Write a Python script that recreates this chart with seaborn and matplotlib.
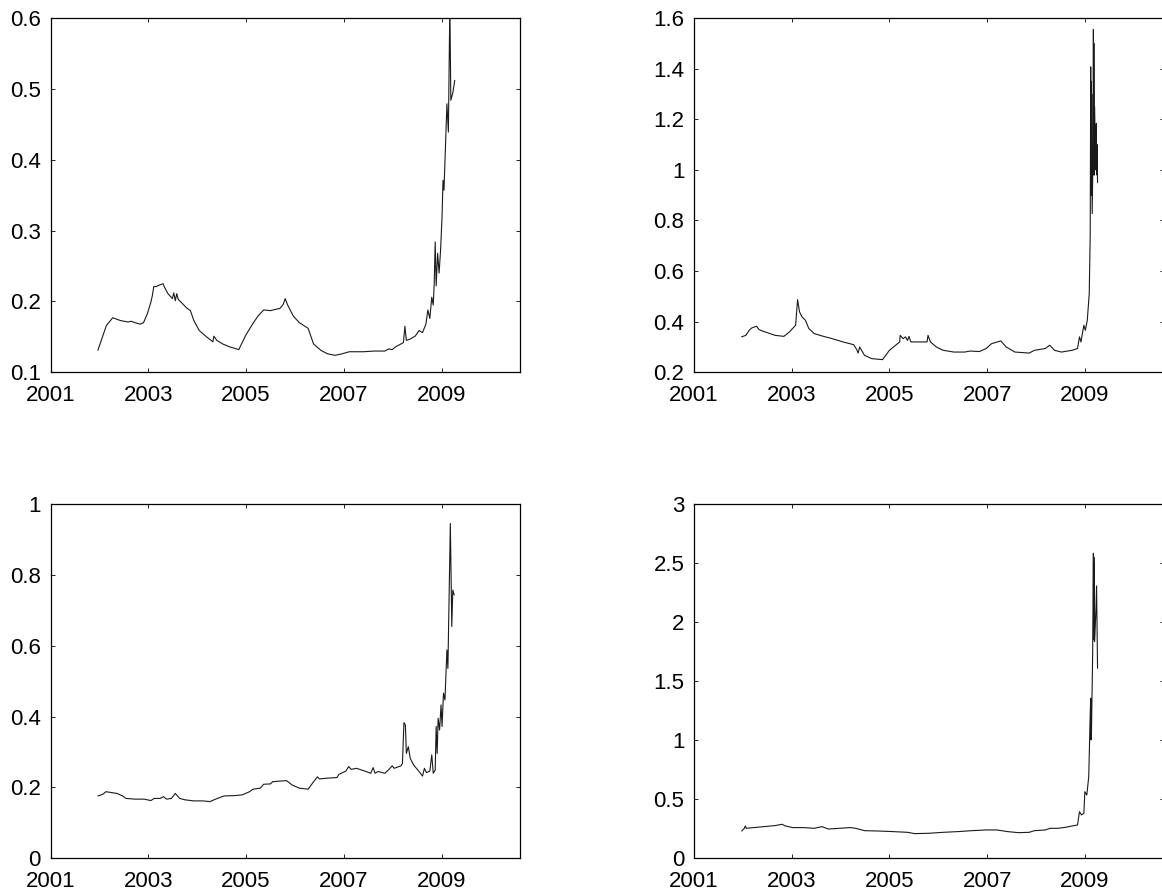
import numpy as np
import pandas as pd
import matplotlib
matplotlib.use("Agg")
import matplotlib.pyplot as plt
from matplotlib.ticker import FuncFormatter, FixedLocator
import seaborn as sns

# ---------------- data (decimal years) ----------------
tl_year = [2001.965, 2002.14, 2002.27, 2002.43, 2002.58, 2002.65, 2002.73, 2002.83, 2002.90,
           2002.98, 2003.05, 2003.08, 2003.11, 2003.16, 2003.22, 2003.30, 2003.33, 2003.40,
           2003.49, 2003.52, 2003.55, 2003.58, 2003.61, 2003.71, 2003.78, 2003.86, 2003.93,
           2004.04, 2004.19, 2004.32, 2004.34, 2004.40, 2004.52, 2004.66, 2004.85, 2004.99,
           2005.14, 2005.25, 2005.36, 2005.50, 2005.61, 2005.69, 2005.76, 2005.80, 2005.85,
           2005.90, 2005.97, 2006.09, 2006.27, 2006.38, 2006.53, 2006.67, 2006.82, 2006.96,
           2007.11, 2007.40, 2007.62, 2007.84, 2007.92, 2007.99, 2008.06, 2008.17, 2008.22,
           2008.25, 2008.28, 2008.36, 2008.46, 2008.54, 2008.61, 2008.68, 2008.72, 2008.76,
           2008.80, 2008.83, 2008.85, 2008.87, 2008.89, 2008.92, 2008.95, 2008.98, 2009.01,
           2009.03, 2009.05, 2009.08, 2009.11, 2009.14, 2009.17, 2009.19, 2009.23, 2009.27]
tl_val = [0.131, 0.166, 0.177, 0.173, 0.171, 0.172, 0.170, 0.168, 0.170,
          0.183, 0.199, 0.208, 0.221, 0.221, 0.223, 0.225, 0.220, 0.211,
          0.204, 0.212, 0.201, 0.211, 0.203, 0.196, 0.191, 0.187, 0.173,
          0.159, 0.150, 0.143, 0.151, 0.145, 0.140, 0.136, 0.132, 0.152,
          0.169, 0.180, 0.188, 0.187, 0.189, 0.190, 0.196, 0.204, 0.195,
          0.188, 0.179, 0.170, 0.162, 0.140, 0.131, 0.126, 0.124, 0.126,
          0.129, 0.129, 0.130, 0.130, 0.133, 0.132, 0.136, 0.140, 0.142,
          0.165, 0.145, 0.147, 0.151, 0.159, 0.156, 0.168, 0.188, 0.176,
          0.206, 0.195, 0.225, 0.284, 0.222, 0.268, 0.240, 0.272, 0.319,
          0.371, 0.357, 0.418, 0.479, 0.439, 0.620, 0.484, 0.494, 0.512]

tr_year = [2001.975, 2002.06, 2002.13, 2002.18, 2002.28, 2002.33, 2002.40, 2002.51, 2002.66,
           2002.84, 2002.95, 2003.08, 2003.12, 2003.16, 2003.21, 2003.28, 2003.35, 2003.46,
           2003.65, 2003.83, 2004.05, 2004.27, 2004.33, 2004.36, 2004.39, 2004.49, 2004.64,
           2004.86, 2005.00, 2005.21, 2005.22, 2005.28, 2005.33, 2005.37, 2005.40, 2005.44,
           2005.59, 2005.77, 2005.79, 2005.84, 2005.96, 2006.10, 2006.32, 2006.54, 2006.65,
           2006.84, 2006.98, 2007.09, 2007.28, 2007.39, 2007.57, 2007.86, 2007.97, 2008.19,
           2008.28, 2008.38, 2008.52, 2008.74, 2008.85, 2008.89, 2008.92, 2008.98, 2009.01,
           2009.05, 2009.09, 2009.11, 2009.120, 2009.125, 2009.130, 2009.135, 2009.140, 2009.150,
           2009.170, 2009.175, 2009.180, 2009.185, 2009.190, 2009.200, 2009.220, 2009.235,
           2009.240, 2009.250, 2009.260]
tr_val = [0.340, 0.346, 0.366, 0.375, 0.382, 0.369, 0.363, 0.356, 0.346,
          0.342, 0.359, 0.386, 0.487, 0.439, 0.419, 0.406, 0.373, 0.353,
          0.342, 0.333, 0.320, 0.309, 0.290, 0.276, 0.300, 0.267, 0.254,
          0.250, 0.287, 0.320, 0.346, 0.333, 0.340, 0.326, 0.342, 0.320,
          0.320, 0.320, 0.346, 0.320, 0.300, 0.287, 0.280, 0.280, 0.284,
          0.282, 0.294, 0.313, 0.324, 0.300, 0.280, 0.276, 0.287, 0.294,
          0.307, 0.287, 0.280, 0.287, 0.294, 0.340, 0.320, 0.386, 0.366,
          0.406, 0.511, 0.748, 1.407, 0.950, 1.350, 0.900, 1.300, 0.827,
          1.100, 1.555, 1.050, 1.500, 0.979, 1.250, 1.000, 1.183, 0.980,
          1.100, 0.949]

bl_year = [2001.965, 2002.03, 2002.07, 2002.13, 2002.22, 2002.36, 2002.47, 2002.54, 2002.73,
           2002.91, 2003.05, 2003.12, 2003.24, 2003.31, 2003.37, 2003.47, 2003.55, 2003.64,
           2003.75, 2003.93, 2004.12, 2004.26, 2004.41, 2004.55, 2004.77, 2004.92, 2005.07,
           2005.14, 2005.29, 2005.36, 2005.50, 2005.54, 2005.69, 2005.83, 2005.94, 2006.09,
           2006.27, 2006.38, 2006.46, 2006.50, 2006.64, 2006.86, 2006.90, 2007.04, 2007.10,
           2007.15, 2007.26, 2007.41, 2007.55, 2007.60, 2007.64, 2007.70, 2007.84, 2007.91,
           2007.99, 2008.03, 2008.17, 2008.20, 2008.23, 2008.26, 2008.28, 2008.32, 2008.36,
           2008.43, 2008.54, 2008.61, 2008.65, 2008.69, 2008.76, 2008.80, 2008.83, 2008.87,
           2008.89, 2008.91, 2008.93, 2008.96, 2008.99, 2009.01, 2009.04, 2009.07, 2009.11,
           2009.13, 2009.18, 2009.21, 2009.23, 2009.26]
bl_val = [0.176, 0.179, 0.181, 0.188, 0.186, 0.183, 0.176, 0.169, 0.167,
          0.167, 0.163, 0.169, 0.169, 0.174, 0.167, 0.169, 0.183, 0.169,
          0.165, 0.162, 0.162, 0.160, 0.169, 0.176, 0.177, 0.179, 0.188,
          0.195, 0.198, 0.209, 0.210, 0.216, 0.218, 0.219, 0.207, 0.198,
          0.195, 0.216, 0.230, 0.224, 0.226, 0.228, 0.237, 0.246, 0.259,
          0.251, 0.254, 0.247, 0.240, 0.256, 0.240, 0.245, 0.240, 0.249,
          0.261, 0.254, 0.261, 0.268, 0.383, 0.376, 0.296, 0.315, 0.282,
          0.263, 0.245, 0.232, 0.254, 0.242, 0.246, 0.292, 0.240, 0.249,
          0.372, 0.296, 0.395, 0.362, 0.433, 0.372, 0.466, 0.447, 0.588,
          0.536, 0.945, 0.654, 0.757, 0.743]

br_year = [2001.975, 2002.03, 2002.05, 2002.07, 2002.22, 2002.43, 2002.66, 2002.80, 2002.87,
           2003.02, 2003.24, 2003.46, 2003.62, 2003.75, 2003.98, 2004.20, 2004.31, 2004.49,
           2004.78, 2005.08, 2005.37, 2005.52, 2005.81, 2006.10, 2006.40, 2006.69, 2006.98,
           2007.20, 2007.42, 2007.64, 2007.86, 2007.97, 2008.19, 2008.29, 2008.45, 2008.60,
           2008.74, 2008.85, 2008.89, 2008.93, 2008.98, 2009.00, 2009.04, 2009.08, 2009.11,
           2009.120, 2009.125, 2009.130, 2009.135, 2009.160, 2009.175, 2009.180, 2009.185,
           2009.190, 2009.195, 2009.200, 2009.230, 2009.240, 2009.260]
br_val = [0.231, 0.254, 0.274, 0.254, 0.260, 0.268, 0.277, 0.288, 0.274,
          0.260, 0.260, 0.254, 0.268, 0.248, 0.254, 0.260, 0.254, 0.234,
          0.231, 0.226, 0.220, 0.209, 0.212, 0.220, 0.226, 0.234, 0.240,
          0.240, 0.226, 0.217, 0.220, 0.234, 0.240, 0.254, 0.254, 0.262,
          0.274, 0.282, 0.395, 0.367, 0.381, 0.564, 0.536, 0.691, 1.228,
          1.355, 1.002, 1.330, 1.050, 1.736, 2.583, 1.850, 2.550, 1.900,
          2.500, 1.834, 2.131, 2.306, 1.609]

x_ticks = [2001, 2003, 2005, 2007, 2009]
y_ticks_tl = [0.1, 0.2, 0.3, 0.4, 0.5, 0.6]
y_ticks_tr = [0.2, 0.4, 0.6, 0.8, 1.0, 1.2, 1.4, 1.6]
y_ticks_bl = [0, 0.2, 0.4, 0.6, 0.8, 1.0]
y_ticks_br = [0, 0.5, 1.0, 1.5, 2.0, 2.5, 3.0]

# ---------------- styling ----------------
sns.set_style("ticks")
plt.rcParams['font.family'] = ['Liberation Sans', 'DejaVu Sans']
plt.rcParams['axes.linewidth'] = 0.9
plt.rcParams['axes.edgecolor'] = '#000000'

W, H = 1162, 894
fig = plt.figure(figsize=(W / 100, H / 100), dpi=100)
fig.patch.set_facecolor('white')

ax_w = 469.5
ax_h = 354.3
positions = {
    'tl': (50.7, 18.0),
    'tr': (694.0, 18.0),
    'bl': (50.7, 504.0),
    'br': (694.0, 504.0),
}
panels = [
    ('tl', tl_year, tl_val, y_ticks_tl),
    ('tr', tr_year, tr_val, y_ticks_tr),
    ('bl', bl_year, bl_val, y_ticks_bl),
    ('br', br_year, br_val, y_ticks_br),
]

fmt = FuncFormatter(lambda v, p: ('%g' % round(v, 6)))

for key, yrs, vals, yt in panels:
    left, top = positions[key]
    ax = fig.add_axes([left / W, 1 - (top + ax_h) / H, ax_w / W, ax_h / H])
    df = pd.DataFrame({'year': yrs, 'value': vals})
    sns.lineplot(data=df, x='year', y='value', ax=ax, color='#1a1a1a',
                 linewidth=0.8, sort=False, estimator=None)
    ax.set_xlim(2001, 2010.61)
    ax.set_ylim(yt[0], yt[-1])
    ax.xaxis.set_major_locator(FixedLocator(x_ticks))
    ax.yaxis.set_major_locator(FixedLocator(yt))
    ax.xaxis.set_major_formatter(FuncFormatter(lambda v, p: '%d' % round(v)))
    ax.yaxis.set_major_formatter(fmt)
    ax.tick_params(axis='both', direction='in', top=True, right=True,
                   length=3.2, width=0.6, labelsize=16, colors='#000000')
    ax.tick_params(axis='x', pad=9)
    ax.tick_params(axis='y', pad=7)
    ax.set_xlabel('')
    ax.set_ylabel('')
    for s in ax.spines.values():
        s.set_visible(True)
        s.set_linewidth(0.9)
        s.set_color('#000000')

fig.savefig('out.png', dpi=100, facecolor='white')
